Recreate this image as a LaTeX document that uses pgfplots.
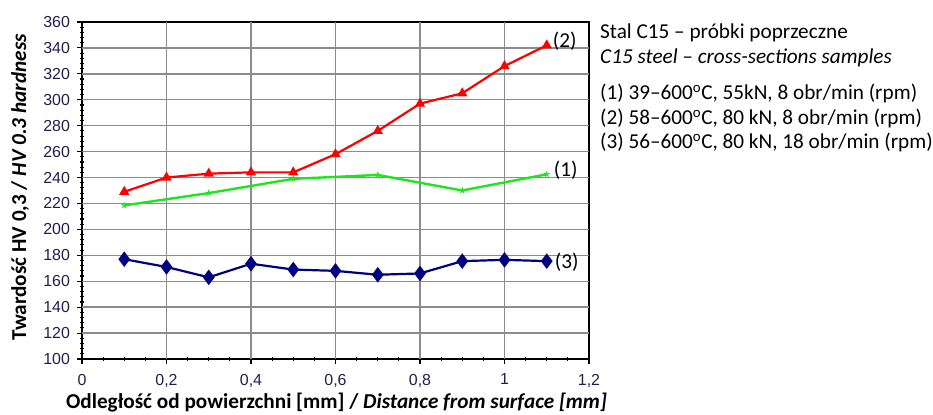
\documentclass[border=0pt]{standalone}
\usepackage{fontspec}
\setmainfont{Carlito}
\newfontfamily\arialfont{Liberation Sans}
\usepackage{pgfplots}
\pgfplotsset{compat=1.18}
\definecolor{tickcol}{RGB}{31,31,79}
\definecolor{gridcol}{RGB}{140,140,140}
\definecolor{navy}{RGB}{0,0,128}
\definecolor{limeg}{RGB}{30,230,30}
\definecolor{redl}{RGB}{255,0,0}
\begin{document}
\begin{tikzpicture}
\path[use as bounding box] (0bp,0bp) rectangle (933bp,415bp);
\begin{axis}[
  at={(82bp,56bp)}, anchor=south west,
  scale only axis, width=507bp, height=337bp,
  xmin=0, xmax=1.2, ymin=100, ymax=360,
  xtick={0,0.2,0.4,0.6,0.8,1,1.2},
  ytick={100,120,140,160,180,200,220,240,260,280,300,320,340,360},
  minor x tick num=3, minor y tick num=4,
  xtick pos=bottom, ytick pos=left,
  axis line style={black, line width=1.3bp},
  tick align=center, major tick length=9bp, minor tick length=4bp,
  tick style={black, line width=1.1bp},
  tick label style={font=\arialfont\fontsize{16}{18}\selectfont, text=tickcol},
  /pgf/number format/assume math mode=true,
  /pgf/number format/use comma,
  xticklabel style={yshift=-7bp},
  yticklabel style={xshift=-4bp},
  xlabel={\textbf{Odległość od powierzchni [mm] / \textit{Distance from surface [mm]}}},
  ylabel={\textbf{Twardość HV 0,3 / \textit{HV 0.3 hardness}}},
  xlabel style={font=\fontsize{21.3}{24}\selectfont, anchor=center, at={(axis description cs:0.502,-0.1306)}},
  ylabel style={font=\fontsize{21.3}{24}\selectfont, anchor=center, at={(axis description cs:-0.1223,0.509)}},
  clip=false,
]
\pgfplotsinvokeforeach{0.2,0.4,0.6,0.8,1.0}{\fill[gridcol] ([xshift=-0.7bp]axis cs:#1,100) rectangle ([xshift=0.7bp]axis cs:#1,360);}
\pgfplotsinvokeforeach{120,140,160,180,200,220,240,260,280,300,320,340}{\fill[gridcol] ([yshift=-0.7bp]axis cs:0,#1) rectangle ([yshift=0.7bp]axis cs:1.2,#1);}
\addplot[limeg, line width=2.4bp, mark=star, mark size=3bp, mark options={solid, line width=1.1bp}]
  coordinates {(0.1,218.5) (0.3,228) (0.5,239) (0.7,242) (0.9,230) (1.1,242.5)};
\addplot[redl, line width=2.2bp, mark=triangle*, mark size=3.8bp, mark options={solid}]
  coordinates {(0.1,229) (0.2,240) (0.3,243) (0.4,244) (0.5,244) (0.6,258) (0.7,276) (0.8,297) (0.9,305) (1.0,326) (1.1,342)};
\addplot[navy, line width=2.2bp, mark=diamond*, mark size=6bp, mark options={solid}]
  coordinates {(0.1,177) (0.2,171) (0.3,163) (0.4,173.5) (0.5,169) (0.6,168) (0.7,165) (0.8,166) (0.9,175.5) (1.0,176.5) (1.1,175.5)};
\node[anchor=west, font=\fontsize{21.3}{24}\selectfont, inner sep=0pt] at (axis cs:1.1,345) [xshift=6bp] {(2)};
\node[anchor=west, font=\fontsize{21.3}{24}\selectfont, inner sep=0pt] at (axis cs:1.1,246) [xshift=7bp] {(1)};
\node[anchor=west, font=\fontsize{21.3}{24}\selectfont, inner sep=0pt] at (axis cs:1.1,175) [xshift=8bp] {(3)};
\end{axis}
\begin{scope}[every node/.style={anchor=base west, inner sep=0pt, font=\fontsize{21.3}{24}\selectfont}]
\node at (600bp,376bp) {Stal C15 – próbki poprzeczne};
\node at (600bp,351bp) {\textit{C15 steel – cross-sections samples}};
\node at (600bp,315bp) {(1) 39–600\textsuperscript{o}C, 55kN, 8 obr/min (rpm)};
\node at (600bp,290bp) {(2) 58–600\textsuperscript{o}C, 80 kN, 8 obr/min (rpm)};
\node at (600bp,266bp) {(3) 56–600\textsuperscript{o}C, 80 kN, 18 obr/min (rpm)};
\end{scope}
\end{tikzpicture}
\end{document}
